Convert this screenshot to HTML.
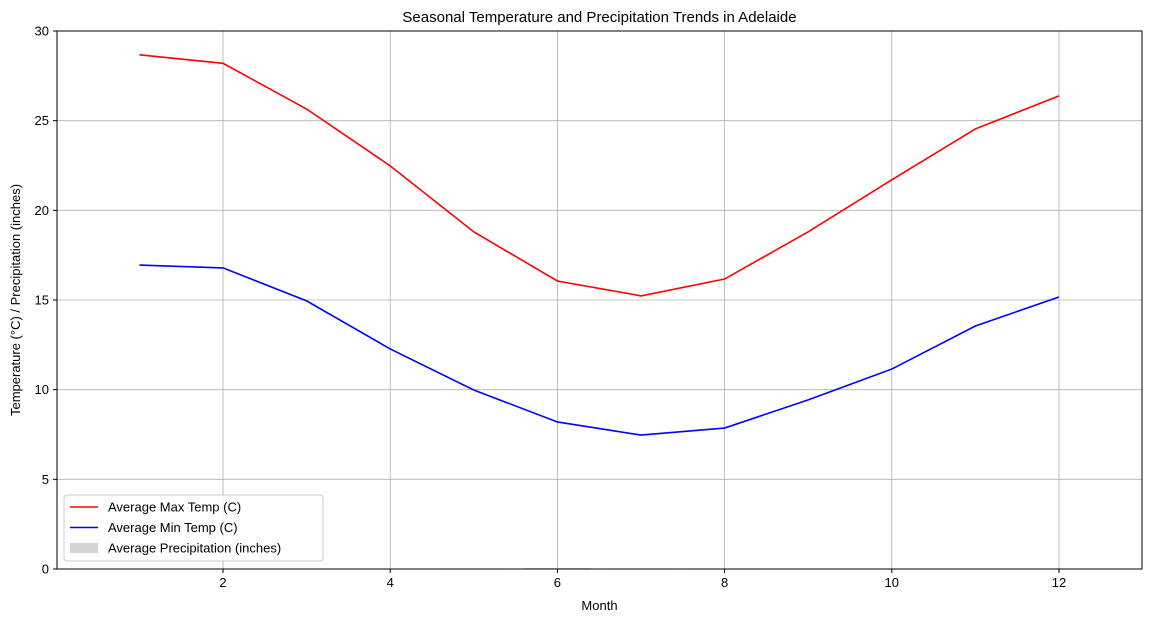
<!DOCTYPE html>
<html><head><meta charset="utf-8"><style>
body{margin:0;background:#fff;font-family:"Liberation Sans",sans-serif;}
svg text{font-family:"Liberation Sans",sans-serif;fill:#000;}
</style></head><body>
<svg id="chart" width="1152" height="622"></svg>
<script>
const months=[1,2,3,4,5,6,7,8,9,10,11,12];
const maxTemp=[28.67,28.2,25.65,22.48,18.8,16.06,15.23,16.17,18.8,21.7,24.54,26.38];
const minTemp=[16.95,16.79,14.95,12.27,9.98,8.2,7.47,7.86,9.43,11.15,13.55,15.17];
const precip=[0.02,0.02,0.01,0.02,0.03,0.05,0.03,0.03,0.02,0.02,0.01,0.01];
const xTicks=[2,4,6,8,10,12];
const yTicks=[0,5,10,15,20,25,30];
const L=57,R=1142,T=31,B=569,xmin=0.014,xmax=12.993,ymin=0,ymax=30;
const sx=v=>L+(v-xmin)/(xmax-xmin)*(R-L);
const sy=v=>B-(v-ymin)/(ymax-ymin)*(B-T);
const svg=document.getElementById('chart');
const NS='http://www.w3.org/2000/svg';
function mk(tag,attrs,parent){const e=document.createElementNS(NS,tag);for(const k in attrs)e.setAttribute(k,attrs[k]);(parent||svg).appendChild(e);return e;}
xTicks.forEach(t=>{const g=mk('line',{x1:sx(t),x2:sx(t),y1:T,y2:B,stroke:'#b0b0b0','stroke-width':0.8});

});
yTicks.forEach(t=>{const g=mk('line',{x1:L,x2:R,y1:sy(t),y2:sy(t),stroke:'#b0b0b0','stroke-width':0.8});

});
months.forEach((m,i)=>{const b=mk('rect',{x:sx(m-0.4),y:sy(precip[i]),width:sx(m+0.4)-sx(m-0.4),height:Math.max(0,B-sy(precip[i])),fill:'#d3d3d3'});

});
function line(data,color,name){const p=mk('polyline',{points:months.map((m,i)=>sx(m)+','+sy(data[i])).join(' '),fill:'none',stroke:color,'stroke-width':1.6});

}
line(maxTemp,'#ff0000','max-temp-line');
line(minTemp,'#0000ff','min-temp-line');
const f=mk('rect',{x:L,y:T,width:R-L,height:B-T,fill:'none',stroke:'#000','stroke-width':1});


xTicks.forEach(t=>{mk('line',{x1:sx(t),x2:sx(t),y1:B,y2:B+4,stroke:'#000'});
const tx=mk('text',{x:sx(t),y:B+18,'text-anchor':'middle','font-size':13});tx.textContent=t;

});
yTicks.forEach(t=>{mk('line',{x1:L-4,x2:L,y1:sy(t),y2:sy(t),stroke:'#000'});
const tx=mk('text',{x:L-8,y:sy(t)+4.5,'text-anchor':'end','font-size':13});tx.textContent=t;

});
let t=mk('text',{x:(L+R)/2,y:22,'text-anchor':'middle','font-size':15});t.textContent='Seasonal Temperature and Precipitation Trends in Adelaide';


t=mk('text',{x:(L+R)/2,y:610,'text-anchor':'middle','font-size':13});t.textContent='Month';


t=mk('text',{x:20,y:(T+B)/2,'text-anchor':'middle','font-size':13,transform:'rotate(-90 20 '+((T+B)/2)+')'});t.textContent='Temperature (°C) / Precipitation (inches)';


const lg=mk('g',{});


mk('rect',{x:64,y:495,width:259,height:66,rx:3,fill:'#fff','fill-opacity':0.8,stroke:'#ccc'},lg);
const items=[['Average Max Temp (C)','#ff0000','line'],['Average Min Temp (C)','#0000ff','line'],['Average Precipitation (inches)','#d3d3d3','rect']];
items.forEach((it,i)=>{const y=507+i*20.5;
if(it[2]==='line')mk('line',{x1:70,x2:98,y1:y,y2:y,stroke:it[1],'stroke-width':1.6},lg);
else mk('rect',{x:70,y:y-5,width:28,height:10,fill:it[1]},lg);
const tx=mk('text',{x:108,y:y+4.5,'font-size':13},lg);tx.textContent=it[0];

});
</script>
</body></html>
